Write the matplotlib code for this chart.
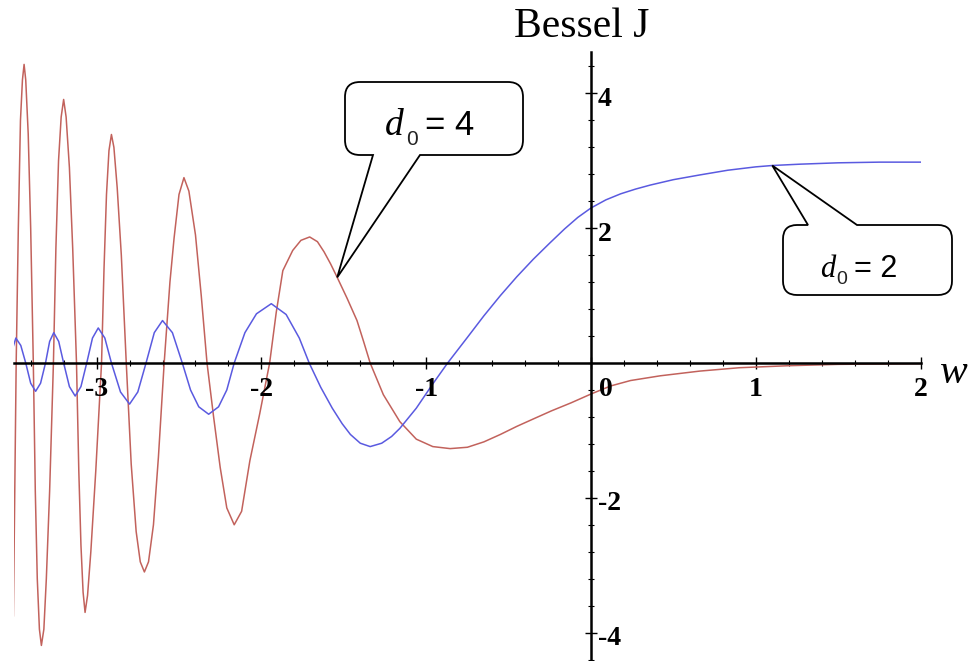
import matplotlib
matplotlib.use("Agg")
import matplotlib.pyplot as plt
from matplotlib.path import Path
from matplotlib.patches import PathPatch
from matplotlib.ticker import MultipleLocator, FixedLocator, NullFormatter

# ---------------- data ----------------
red_w = [-3.505, -3.497, -3.488, -3.475, -3.462, -3.45, -3.44, -3.43, -3.415, -3.40,
         -3.384, -3.372, -3.36, -3.347, -3.335, -3.32, -3.305, -3.285,
         -3.262, -3.247, -3.231, -3.215, -3.20, -3.185, -3.165, -3.145,
         -3.122, -3.108, -3.095, -3.082, -3.07, -3.055, -3.035, -3.005,
         -2.97, -2.955, -2.94, -2.925, -2.91, -2.895, -2.875, -2.85,
         -2.82, -2.79, -2.76, -2.735, -2.71, -2.685, -2.655, -2.625,
         -2.59, -2.555, -2.53, -2.50, -2.47, -2.44, -2.40, -2.365,
         -2.33, -2.29, -2.25, -2.21, -2.165, -2.12, -2.07, -2.01,
         -1.95, -1.91, -1.87, -1.81, -1.76, -1.707, -1.66, -1.62, -1.58, -1.54,
         -1.48, -1.42, -1.38, -1.34, -1.26, -1.16, -1.06, -0.96, -0.855,
         -0.75, -0.65, -0.55, -0.45, -0.35, -0.24, -0.12, 0.0, 0.12, 0.24,
         0.42, 0.66, 0.9, 1.2, 1.5, 2.0]
red_J = [-3.75, -2.0, 0.0, 2.0, 3.6, 4.2, 4.43, 4.2, 3.4, 2.0,
         0.0, -1.9, -3.2, -3.95, -4.19, -3.95, -3.2, -1.9,
         0.0, 1.7, 3.0, 3.65, 3.91, 3.65, 2.9, 1.7,
         0.0, -1.6, -2.7, -3.4, -3.70, -3.45, -2.8, -1.6,
         0.0, 1.4, 2.5, 3.15, 3.39, 3.2, 2.6, 1.6,
         0.0, -1.5, -2.5, -2.95, -3.10, -2.95, -2.4, -1.4,
         0.0, 1.2, 1.85, 2.5, 2.75, 2.55, 1.9, 1.0,
         0.0, -0.8, -1.55, -2.15, -2.40, -2.2, -1.45, -0.75,
         0.0, 0.75, 1.37, 1.67, 1.82, 1.87, 1.80, 1.65, 1.47, 1.27,
         0.96, 0.63, 0.32, 0.0, -0.47, -0.87, -1.13, -1.24, -1.27,
         -1.25, -1.17, -1.06, -0.94, -0.83, -0.71, -0.59, -0.46, -0.34, -0.26,
         -0.19, -0.12, -0.07, -0.04, -0.02, -0.01]

blue_w = [-3.505, -3.49, -3.46, -3.43, -3.40, -3.37, -3.34, -3.31, -3.285,
          -3.26, -3.23, -3.20, -3.165, -3.13, -3.095, -3.06, -3.025, -2.99,
          -2.95, -2.91, -2.855, -2.80, -2.75, -2.70, -2.65, -2.60, -2.54,
          -2.48, -2.43, -2.38, -2.32, -2.26, -2.21, -2.165, -2.10, -2.03,
          -1.94, -1.85, -1.77, -1.71, -1.64, -1.57, -1.51, -1.46, -1.40, -1.34,
          -1.27, -1.21, -1.16, -1.06, -0.96, -0.87, -0.75, -0.65, -0.55, -0.45,
          -0.35, -0.25, -0.16, -0.08, 0.0, 0.09, 0.18, 0.27, 0.36, 0.5, 0.66,
          0.83, 1.0, 1.1, 1.27, 1.5, 1.75, 2.0]
blue_J = [0.25, 0.37, 0.26, 0.0, -0.30, -0.42, -0.30, 0.0, 0.32,
          0.45, 0.32, 0.0, -0.35, -0.49, -0.35, 0.0, 0.37, 0.52,
          0.37, 0.0, -0.43, -0.61, -0.43, 0.0, 0.45, 0.63, 0.45,
          0.0, -0.40, -0.65, -0.76, -0.65, -0.40, 0.0, 0.45, 0.73,
          0.88, 0.72, 0.37, 0.0, -0.36, -0.67, -0.90, -1.06, -1.19, -1.24,
          -1.19, -1.09, -0.97, -0.67, -0.31, 0.0, 0.38, 0.70, 1.00, 1.28,
          1.54, 1.78, 1.99, 2.16, 2.30, 2.42, 2.51, 2.58, 2.64, 2.72, 2.79,
          2.86, 2.91, 2.93, 2.95, 2.97, 2.98, 2.98]

x_ticks = [-3, -2, -1, 0, 1, 2]
x_tick_labels = ["-3", "-2", "-1", "0", "1", "2"]
y_ticks = [-4, -2, 2, 4]
y_tick_labels = ["-4", "-2", "2", "4"]

title = "Bessel J"
x_label = "w"
label_red = ("d", "0", "= 4")
label_blue = ("d", "0", "= 2")

# ---------------- figure ----------------
W, H = 975, 661
fig = plt.figure(figsize=(W / 100, H / 100), dpi=100)
fig.patch.set_facecolor("white")

left_px, right_px = 14.2, 920.6
top_px, bot_px = 52, 661
ax = fig.add_axes([left_px / W, 1 - bot_px / H, (right_px - left_px) / W,
                   (bot_px - top_px) / H])
ax.set_xlim(-3.5, 2.0)
ax.set_ylim(-4.421, 4.614)
ax.patch.set_alpha(0)

RED = "#c2625c"
BLUE = "#5a5ae0"
ax.plot(red_w, red_J, color=RED, lw=1.1, zorder=2, solid_joinstyle="round")
ax.plot(blue_w, blue_J, color=BLUE, lw=1.1, zorder=2, solid_joinstyle="round")

for s in ("top", "right"):
    ax.spines[s].set_visible(False)
ax.spines["left"].set_position(("data", 0))
ax.spines["bottom"].set_position(("data", 0))
for s in ("left", "bottom"):
    ax.spines[s].set_linewidth(1.8)
    ax.spines[s].set_zorder(3)

ax.xaxis.set_major_locator(FixedLocator(x_ticks))
ax.xaxis.set_minor_locator(MultipleLocator(0.2))
ax.yaxis.set_major_locator(FixedLocator(y_ticks))
ax.yaxis.set_minor_locator(MultipleLocator(0.4))
ax.xaxis.set_major_formatter(NullFormatter())
ax.yaxis.set_major_formatter(NullFormatter())
ax.tick_params(which="major", direction="inout", length=9, width=1.0)
ax.tick_params(which="minor", direction="inout", length=5, width=0.8)

tick_font = dict(family="Liberation Serif", weight="bold", size=20)
for t, lab in zip(x_ticks, x_tick_labels):
    xp = t + (0.09 if t == 0 else 0.0)
    ax.text(xp, -0.40, lab, ha="center", va="center", **tick_font)
for t, lab in zip(y_ticks, y_tick_labels):
    ax.text(0.04, t - 0.09, lab, ha="left", va="center", **tick_font)

fig.text(582 / W, 1 - 37 / H, title, ha="center", va="baseline",
         family="Liberation Serif", size=30)
fig.text(940 / W, 1 - 383 / H, x_label, ha="left", va="baseline",
         family="Liberation Serif", style="italic", size=30)


# ---------------- callouts ----------------
def data_to_px(x, y):
    dx, dy = ax.transData.transform((x, y))
    return dx, H - dy


def callout(x0, y0, x1, y1, r, edge, b0, b1, tip):
    verts, codes = [], []

    def M(p):
        verts.append(p); codes.append(Path.MOVETO)

    def L(p):
        verts.append(p); codes.append(Path.LINETO)

    def Q(c, p):
        verts.extend([c, p]); codes.extend([Path.CURVE3, Path.CURVE3])

    M((x0 + r, y0))
    if edge == "top":
        L((b0, y0)); L(tip); L((b1, y0))
    L((x1 - r, y0)); Q((x1, y0), (x1, y0 + r)); L((x1, y1 - r))
    Q((x1, y1), (x1 - r, y1))
    if edge == "bottom":
        L((b1, y1)); L(tip); L((b0, y1))
    L((x0 + r, y1)); Q((x0, y1), (x0, y1 - r)); L((x0, y0 + r))
    Q((x0, y0), (x0 + r, y0))
    verts.append((x0 + r, y0)); codes.append(Path.CLOSEPOLY)
    fv = [(vx / W, 1 - vy / H) for vx, vy in verts]
    patch = PathPatch(Path(fv, codes), transform=fig.transFigure,
                      facecolor="white", edgecolor="black", lw=1.3, zorder=5)
    fig.add_artist(patch)


def callout_text(xd, base, sizes, parts, gap):
    d, sub, rest = parts
    fig.text(xd / W, 1 - base / H, d, family="Liberation Serif", style="italic",
             size=sizes[0], ha="left", va="baseline", zorder=6)
    fig.text((xd + gap[0]) / W, 1 - (base + gap[1]) / H, sub,
             family="Liberation Sans", size=sizes[1], ha="left",
             va="baseline", zorder=6, color="#222222")
    fig.text((xd + gap[2]) / W, 1 - base / H, rest, family="Liberation Sans",
             size=sizes[2], ha="left", va="baseline", zorder=6)


i_red = red_w.index(-1.54)
tip_red = data_to_px(red_w[i_red], red_J[i_red])
callout(345, 82, 523, 155, 15, "bottom", 373, 420, tip_red)
callout_text(385, 135, (27, 15, 25), label_red, (21, 10, 40))

i_blue = blue_w.index(1.1)
tip_blue = data_to_px(blue_w[i_blue], blue_J[i_blue])
callout(783, 225, 952, 295, 14, "top", 808, 857, tip_blue)
callout_text(820, 277, (22, 14, 22), label_blue, (16, 7, 34))

fig.savefig("out.png", dpi=100, facecolor="white")
